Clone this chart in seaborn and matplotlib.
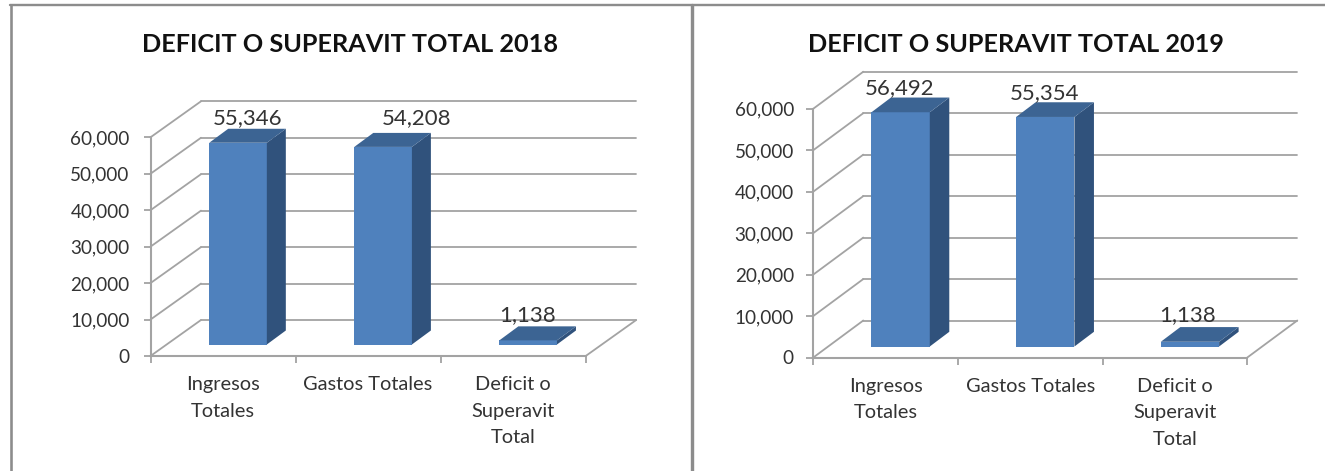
import matplotlib
matplotlib.use("Agg")
import matplotlib.pyplot as plt
from matplotlib.lines import Line2D
from matplotlib.patches import Polygon
import pandas as pd
import seaborn as sns

categories = ["Ingresos\nTotales", "Gastos Totales", "Deficit o\nSuperavit\nTotal"]
values_2018 = [55346, 54208, 1138]
values_2019 = [56492, 55354, 1138]
titles = ["DEFICIT O SUPERAVIT TOTAL 2018", "DEFICIT O SUPERAVIT TOTAL 2019"]
y_ticks = [0, 10000, 20000, 30000, 40000, 50000, 60000]

W, H = 1325, 471
FRONT, SIDE, TOP = "#4F81BD", "#30527C", "#3C6493"
GRID, TEXT, FRAME = "#A3A3A3", "#333333", "#8C8C8C"

sns.set_theme(style="white")
plt.rcParams["font.family"] = ["Lato", "DejaVu Sans"]

fig = plt.figure(figsize=(W / 100, H / 100), dpi=100, facecolor="white")


def draw_panel(values, title, box, wall, bar_w, floor, bar_d, label_px, title_xy, ypad):
    x0, x1, y0, y60 = box
    ax = fig.add_axes([x0 / W, 1 - y0 / H, (x1 - x0) / W, (y0 - y60) / H])
    ax.set_facecolor("none")
    xu = (x1 - x0) / 3          # pixels per category
    yu = (y0 - y60) / 60000     # pixels per value unit

    df = pd.DataFrame({"cat": categories, "val": values})
    sns.barplot(data=df, x="cat", y="val", ax=ax, color=FRONT, saturation=1,
                width=bar_w, linewidth=0, zorder=3)
    ax.set_xlim(-0.5, 2.5)
    ax.set_ylim(0, 60000)

    # walls
    wx, wy = wall[0] / xu, wall[1] / yu
    for t in y_ticks:
        ax.plot([-0.5, -0.5 + wx], [t, t + wy], color=GRID, lw=1.3, clip_on=False, zorder=1)
        ax.plot([-0.5 + wx, 2.5 + wx], [t + wy, t + wy], color=GRID, lw=1.3, clip_on=False, zorder=1)
    ax.plot([2.5, 2.5 + wx], [0, wy], color=GRID, lw=1.3, clip_on=False, zorder=1)

    # bars: front face from seaborn moved onto the floor, then depth faces
    fx, fy = floor[0] / xu, floor[1] / yu
    dx, dy = bar_d[0] / xu, bar_d[1] / yu
    for patch, v, off in zip(ax.patches, values, label_px):
        patch.set_x(patch.get_x() + fx)
        patch.set_y(fy)
        patch.set_clip_on(False)
        a = patch.get_x()
        b = a + patch.get_width()
        top = fy + v
        ax.add_patch(Polygon([(b, fy), (b + dx, fy + dy), (b + dx, top + dy), (b, top)],
                             facecolor=SIDE, lw=0, clip_on=False, zorder=3))
        ax.add_patch(Polygon([(a, top), (a + dx, top + dy), (b + dx, top + dy), (b, top)],
                             facecolor=TOP, lw=0, clip_on=False, zorder=3))
        ax.annotate(f"{v:,}", xy=((a + b) / 2, top), xytext=(off[0] * 0.72, off[1] * 0.72),
                    textcoords="offset points", ha="center", va="center",
                    fontsize=16, color=TEXT, zorder=4)

    # axes
    for s in ["top", "right"]:
        ax.spines[s].set_visible(False)
    for s in ["left", "bottom"]:
        ax.spines[s].set_color(GRID)
        ax.spines[s].set_linewidth(1.5)
    ax.set_xlabel("")
    ax.set_ylabel("")
    ax.set_yticks(y_ticks, [f"{t:,}" for t in y_ticks])
    ax.tick_params(axis="y", left=True, length=5, width=1.3, color=GRID,
                   labelsize=13.6, labelcolor=TEXT, pad=ypad)
    ax.set_xticks([-0.5, 0.5, 1.5, 2.5], ["", "", "", ""])
    ax.set_xticks([0, 1, 2], categories, minor=True)
    ax.tick_params(axis="x", which="major", bottom=True, length=5, width=1.3, color=GRID)
    ax.tick_params(axis="x", which="minor", bottom=False, length=0, pad=14.5,
                   labelsize=14.4, labelcolor=TEXT)
    for lab in ax.get_xticklabels(minor=True):
        lab.set_linespacing(1.68)

    fig.text(title_xy[0] / W, 1 - title_xy[1] / H, title, ha="center", va="center",
             fontsize=18.2, fontweight="bold", color="#111111")


draw_panel(values_2018, titles[0], (150.5, 585.7, 356, 137.3), (50.5, 36), 0.397, (15, 11.5),
           (19, 14), [(10, 24.3), (34, 29.3), (-1, 24.8)], (350.5, 45), 10)
draw_panel(values_2019, titles[1], (813.3, 1247.3, 357.5, 108.7), (50, 37), 0.403, (15, 11),
           (19.5, 14.7), [(-1, 24.3), (-1, 24.3), (-2, 26.3)], (1016, 45), 9)

# panel frame
for xs, ys, w in [((11.3, 11.3), (5, H), 2.6), ((10, W), (5.4, 5.4), 2.4),
                  ((691.5, 691.5), (5, H), 3.4)]:
    fig.add_artist(Line2D([x / W for x in xs], [1 - y / H for y in ys], color=FRAME,
                          lw=w * 0.72, transform=fig.transFigure))

fig.savefig("out.png", dpi=100)
